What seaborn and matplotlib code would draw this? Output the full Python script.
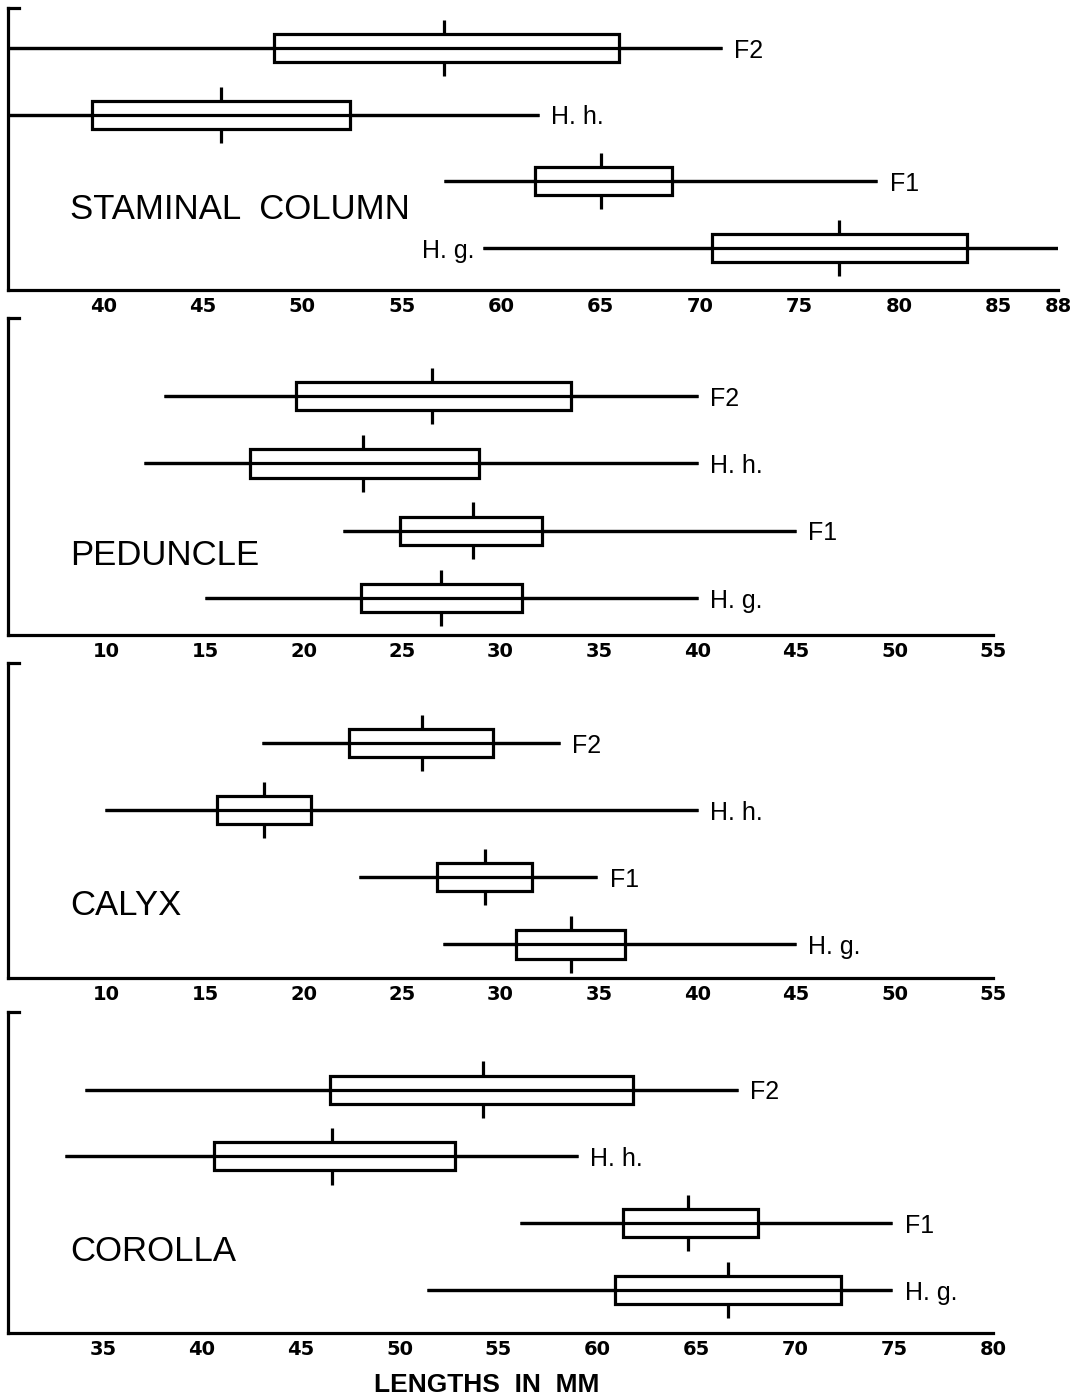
import numpy as np
import pandas as pd
import matplotlib
matplotlib.use("Agg")
import matplotlib.pyplot as plt
import matplotlib.transforms as mtransforms
import seaborn as sns

# ---------------- data ----------------
groups = ["F2", "H. h.", "F1", "H. g."]
panel_titles = ["STAMINAL  COLUMN", "PEDUNCLE", "CALYX", "COROLLA"]

# five-number summaries: min, lower box edge, median, upper box edge, max
stam_min = [35.2, 35.2, 57.1, 59.1]
stam_q1 = [48.6, 39.4, 61.7, 70.6]
stam_med = [57.1, 45.9, 65.0, 77.0]
stam_q3 = [65.9, 52.4, 68.6, 83.4]
stam_max = [71.1, 61.9, 78.9, 88.0]

ped_min = [12.9, 11.9, 22.0, 15.0]
ped_q1 = [19.6, 17.3, 24.9, 22.9]
ped_med = [26.5, 23.0, 28.6, 27.0]
ped_q3 = [33.6, 28.9, 32.1, 31.1]
ped_max = [40.0, 40.0, 45.0, 40.0]

cal_min = [17.9, 9.9, 22.8, 27.1]
cal_q1 = [22.3, 15.6, 26.8, 30.8]
cal_med = [26.0, 18.0, 29.2, 33.6]
cal_q3 = [29.6, 20.4, 31.6, 36.3]
cal_max = [33.0, 40.0, 34.9, 45.0]

cor_min = [34.1, 33.1, 56.1, 51.4]
cor_q1 = [46.5, 40.6, 61.3, 60.9]
cor_med = [54.2, 46.6, 64.6, 66.6]
cor_q3 = [61.8, 52.8, 68.1, 72.3]
cor_max = [67.1, 59.0, 74.9, 74.9]

stam_ticks = [40, 45, 50, 55, 60, 65, 70, 75, 80, 85, 88]
ped_ticks = [10, 15, 20, 25, 30, 35, 40, 45, 50, 55]
cal_ticks = [10, 15, 20, 25, 30, 35, 40, 45, 50, 55]
cor_ticks = [35, 40, 45, 50, 55, 60, 65, 70, 75, 80]

x_label = "LENGTHS  IN  MM"

# ---------------- style ----------------
sns.set_theme(style="white")
plt.rcParams['font.family'] = ['Liberation Sans', 'DejaVu Sans']
plt.rcParams['text.color'] = 'black'
plt.rcParams['xtick.color'] = 'black'
plt.rcParams['xtick.labelcolor'] = 'black'

W, H = 1072, 1399
fig = plt.figure(figsize=(W / 100, H / 100), dpi=100)
fig.patch.set_facecolor("white")

# axes boxes in pixels: left, top, right, bottom
boxes = [(8, 8, 1058, 290), (8, 318, 993, 635), (8, 663, 993, 978), (8, 1012, 993, 1333)]
xlims = [(35.2, 88.0), (5.0, 55.0), (5.0, 55.0), (30.2, 80.0)]
ylims = [(3.63, -0.6), (3.55, -1.16), (3.5, -1.19), (3.64, -1.16)]
stats = [
    (stam_min, stam_q1, stam_med, stam_q3, stam_max),
    (ped_min, ped_q1, ped_med, ped_q3, ped_max),
    (cal_min, cal_q1, cal_med, cal_q3, cal_max),
    (cor_min, cor_q1, cor_med, cor_q3, cor_max),
]
ticks = [stam_ticks, ped_ticks, cal_ticks, cor_ticks]
title_y = [2.42, 2.37, 2.42, 2.42]

LW = 2.3
BOXW = 0.42
label_font = ['Liberation Sans', 'DejaVu Sans']

for p in range(4):
    l, t, r, b = boxes[p]
    ax = fig.add_axes([l / W, 1 - b / H, (r - l) / W, (b - t) / H])
    mn, q1, md, q3, mx = stats[p]
    rows_g, rows_v = [], []
    for i, g in enumerate(groups):
        for v in (mn[i], q1[i], md[i], q3[i], mx[i]):
            rows_g.append(g)
            rows_v.append(v)
    df = pd.DataFrame({"group": rows_g, "length": rows_v})
    sns.boxplot(data=df, x="length", y="group", order=groups, orient="h",
                whis=(0, 100), width=BOXW, fill=True, color="white",
                linecolor="black", linewidth=LW, showcaps=False,
                medianprops=dict(linewidth=0), ax=ax)
    ypos = np.arange(len(groups))
    ax.hlines(ypos, mn, mx, color="black", lw=LW, zorder=5)
    # median ticks outside the box only
    ax.vlines(md, ypos - 0.42, ypos - BOXW / 2, color="black", lw=LW, zorder=5)
    ax.vlines(md, ypos + BOXW / 2, ypos + 0.42, color="black", lw=LW, zorder=5)

    ax.set_xlim(*xlims[p])
    ax.set_ylim(*ylims[p])
    ax.set_yticks([])
    ax.set_xlabel("")
    ax.set_ylabel("")
    ax.set_xticks(ticks[p])
    ax.set_xticklabels([str(v) for v in ticks[p]], fontsize=14, fontweight="bold",
                       family=['DejaVu Sans'], color="black")
    ax.tick_params(axis="x", direction="in", length=5, width=1.8, pad=5, colors="black")
    sns.despine(ax=ax, top=True, right=True)
    for s in ("left", "bottom"):
        ax.spines[s].set_linewidth(LW)
        ax.spines[s].set_color("black")
    ax.set_facecolor("white")
    ax.grid(False)

    # top bracket
    ax.plot([0, 11 / (r - l)], [1, 1], transform=ax.transAxes, clip_on=False,
            color="black", lw=LW, solid_capstyle="projecting")

    # group labels
    for i, g in enumerate(groups):
        if p == 0 and i == 3:
            ax.annotate(g, xy=(mn[i], i), xytext=(-6, -2), textcoords="offset points",
                        ha="right", va="center", fontsize=18, family=label_font,
                        color="black")
        else:
            ax.annotate(g, xy=(mx[i], i), xytext=(9, -2), textcoords="offset points",
                        ha="left", va="center", fontsize=18, family=label_font,
                        color="black")

    # panel title
    trans = mtransforms.blended_transform_factory(ax.transAxes, ax.transData)
    ax.annotate(panel_titles[p], xy=(0, title_y[p]), xycoords=trans,
                xytext=(62 * 0.72, 0), textcoords="offset points",
                ha="left", va="center", fontsize=25, family=label_font,
                color="black")

fig.text(487 / W, 1 - 1385 / H, x_label, ha="center", va="center",
         fontsize=19, fontweight="bold", family=label_font, color="black")

fig.savefig("out.png", dpi=100, facecolor="white")
